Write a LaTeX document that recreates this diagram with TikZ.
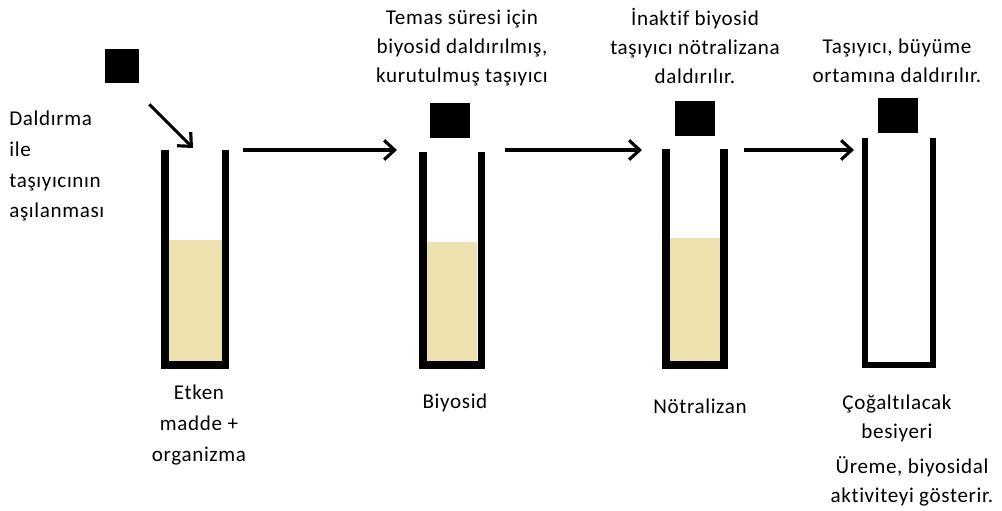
\documentclass[tikz,border=0pt]{standalone}
\usepackage{fontspec}
\setmainfont{Carlito}[LetterSpace=3,Ligatures=NoCommon]
\usetikzlibrary{arrows.meta}
\definecolor{broth}{RGB}{237,225,176}
\tikzset{
  wall/.style={line width=4pt,line join=miter},
  carrier/.style={fill=black,inner sep=0pt,minimum width=0.8cm,minimum height=0.7cm},
  flow/.style={-{Straight Barb[length=6pt,width=11pt]},line width=1.8pt},
  lbl/.style={align=center,font=\fontsize{12}{16.5}\selectfont,inner sep=0pt}
}
\begin{document}
\begin{tikzpicture}[x=0.02cm,y=-0.02cm]
\useasboundingbox (0,0) rectangle (1002,511);
% tubes with medium
\fill[broth] (168,240) rectangle (222,362);
\draw[wall] (165,150) -- (165,365) -- (225.5,365) -- (225.5,150);
\fill[broth] (427,242) rectangle (477,361);
\draw[wall] (423,152) -- (423,365) -- (481.5,365) -- (481.5,152);
\fill[broth] (670,238) rectangle (720,361);
\draw[wall] (666,149) -- (666,365) -- (724,365) -- (724,149);
\draw[wall,line width=3pt] (865,138) -- (865,365) -- (933,365) -- (933,138);
% carriers
\node[carrier,minimum width=0.68cm,minimum height=0.68cm] (c1) at (122,66) {};
\node[carrier] (c2) at (450,120) {};
\node[carrier] (c3) at (695,118) {};
\node[carrier] (c4) at (898,115) {};
% flow
\coordinate (d1) at (193,148);
\draw[flow] ([shift={(10,21)}]c1.south east) -- (d1);
\coordinate (t1) at (243,150);
\coordinate (t2a) at (397,150);
\coordinate (t2) at (505,150);
\coordinate (t3a) at (642,150);
\coordinate (t3) at (744,150);
\coordinate (t4a) at (854,150);
\draw[flow] (t1) -- (t2a);
\draw[flow] (t2) -- (t3a);
\draw[flow] (t3) -- (t4a);
% texts
\node[lbl,align=left,anchor=west,font=\fontsize{12}{17.6}\selectfont] (dip) at (9,166) {Daldırma\\ile\\taşıyıcının\\aşılanması};
\node[lbl] (s2) at (462,48) {Temas süresi için\\biyosid daldırılmış,\\kurutulmuş taşıyıcı};
\node[lbl] (s3) at (695,46) {İnaktif biyosid\\taşıyıcı nötralizana\\daldırılır.};
\node[lbl] (s4) at (897,61) {Taşıyıcı, büyüme\\ortamına daldırılır.};
\node[lbl,font=\fontsize{12}{17.6}\selectfont] (b1) at (199,425) {Etken\\madde +\\organizma};
\node[lbl] (b2) at (455,403) {Biyosid};
\node[lbl] (b3) at (700,406) {Nötralizan};
\node[lbl] (b4) at (897,418) {Çoğaltılacak\\besiyeri};
\node[lbl] (b5) at (912,481) {Üreme, biyosidal\\aktiviteyi gösterir.};
\end{tikzpicture}
\end{document}
